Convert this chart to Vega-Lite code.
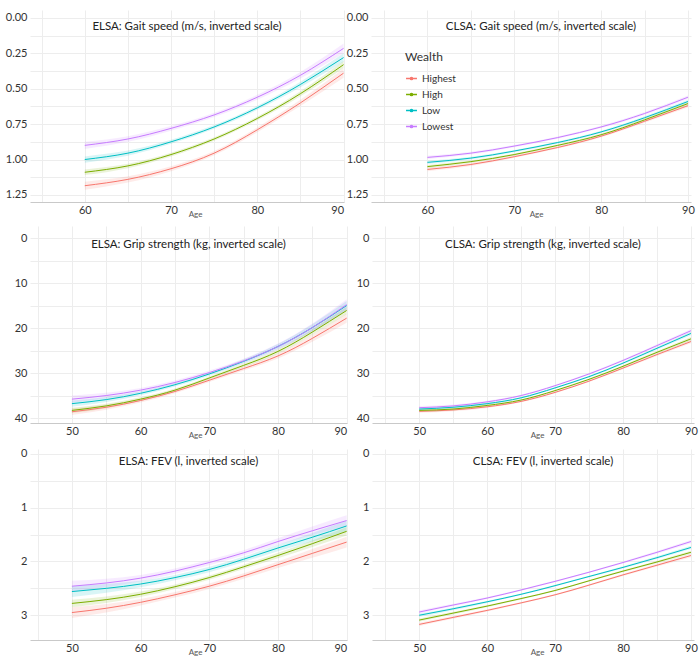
{
  "$schema": "https://vega.github.io/schema/vega-lite/v6.json",
  "padding": {"left": 5, "top": 10, "right": 5, "bottom": 2},
  "background": "white",
  "spacing": 8,
  "config": {
    "font": "Lato",
    "view": {"stroke": null},
    "axis": {"labelFontSize": 11, "labelColor": "#333", "gridColor": "#ededed", "ticks": false, "domain": false, "labelPadding": 3, "labelOverlap": false, "titleFontWeight": "normal", "titleFontSize": 8, "titleColor": "#555", "titleBaseline": "middle"},
    "axisX": {"domain": true, "domainColor": "#c9c9c9", "labelPadding": 2, "labelFlush": true, "titleX": 165, "titleY": 12},
    "title": {"fontSize": 11.5, "fontWeight": "normal", "color": "#222", "anchor": "middle", "offset": -22},
    "legend": {"disable": true, "titleFontSize": 12, "titleFontWeight": "normal", "titleColor": "#333", "labelFontSize": 10, "labelColor": "#333", "rowPadding": 4, "titlePadding": 8}
  },
  "datasets": {
    "eg": [
      {"age":60,"w":"Highest","v":1.185,"lo":1.157,"hi":1.213},{"age":65,"w":"Highest","v":1.14,"lo":1.118,"hi":1.162},{"age":70,"w":"Highest","v":1.065,"lo":1.048,"hi":1.082},{"age":75,"w":"Highest","v":0.955,"lo":0.94,"hi":0.97},{"age":80,"w":"Highest","v":0.79,"lo":0.773,"hi":0.807},{"age":85,"w":"Highest","v":0.6,"lo":0.578,"hi":0.622},{"age":90,"w":"Highest","v":0.39,"lo":0.358,"hi":0.422},
      {"age":60,"w":"High","v":1.09,"lo":1.07,"hi":1.11},{"age":65,"w":"High","v":1.045,"lo":1.029,"hi":1.061},{"age":70,"w":"High","v":0.965,"lo":0.952,"hi":0.978},{"age":75,"w":"High","v":0.855,"lo":0.843,"hi":0.867},{"age":80,"w":"High","v":0.71,"lo":0.697,"hi":0.723},{"age":85,"w":"High","v":0.535,"lo":0.517,"hi":0.553},{"age":90,"w":"High","v":0.33,"lo":0.304,"hi":0.356},
      {"age":60,"w":"Low","v":1.0,"lo":0.978,"hi":1.022},{"age":65,"w":"Low","v":0.955,"lo":0.937,"hi":0.973},{"age":70,"w":"Low","v":0.875,"lo":0.861,"hi":0.889},{"age":75,"w":"Low","v":0.77,"lo":0.757,"hi":0.783},{"age":80,"w":"Low","v":0.635,"lo":0.621,"hi":0.649},{"age":85,"w":"Low","v":0.47,"lo":0.45,"hi":0.49},{"age":90,"w":"Low","v":0.28,"lo":0.25,"hi":0.31},
      {"age":60,"w":"Lowest","v":0.9,"lo":0.875,"hi":0.925},{"age":65,"w":"Lowest","v":0.855,"lo":0.835,"hi":0.875},{"age":70,"w":"Lowest","v":0.78,"lo":0.764,"hi":0.796},{"age":75,"w":"Lowest","v":0.685,"lo":0.67,"hi":0.7},{"age":80,"w":"Lowest","v":0.56,"lo":0.543,"hi":0.577},{"age":85,"w":"Lowest","v":0.405,"lo":0.382,"hi":0.428},{"age":90,"w":"Lowest","v":0.215,"lo":0.18,"hi":0.25}
    ],
    "cg": [
      {"age":60,"w":"Highest","v":1.07,"lo":1.058,"hi":1.082},{"age":65,"w":"Highest","v":1.035,"lo":1.025,"hi":1.045},{"age":70,"w":"Highest","v":0.98,"lo":0.972,"hi":0.988},{"age":75,"w":"Highest","v":0.915,"lo":0.907,"hi":0.923},{"age":80,"w":"Highest","v":0.835,"lo":0.827,"hi":0.843},{"age":85,"w":"Highest","v":0.73,"lo":0.72,"hi":0.74},{"age":90,"w":"Highest","v":0.62,"lo":0.607,"hi":0.633},
      {"age":60,"w":"High","v":1.05,"lo":1.038,"hi":1.062},{"age":65,"w":"High","v":1.015,"lo":1.005,"hi":1.025},{"age":70,"w":"High","v":0.965,"lo":0.957,"hi":0.973},{"age":75,"w":"High","v":0.9,"lo":0.892,"hi":0.908},{"age":80,"w":"High","v":0.825,"lo":0.817,"hi":0.833},{"age":85,"w":"High","v":0.72,"lo":0.71,"hi":0.73},{"age":90,"w":"High","v":0.605,"lo":0.592,"hi":0.618},
      {"age":60,"w":"Low","v":1.02,"lo":1.008,"hi":1.032},{"age":65,"w":"Low","v":0.99,"lo":0.98,"hi":1.0},{"age":70,"w":"Low","v":0.94,"lo":0.932,"hi":0.948},{"age":75,"w":"Low","v":0.88,"lo":0.872,"hi":0.888},{"age":80,"w":"Low","v":0.805,"lo":0.797,"hi":0.813},{"age":85,"w":"Low","v":0.705,"lo":0.695,"hi":0.715},{"age":90,"w":"Low","v":0.59,"lo":0.577,"hi":0.603},
      {"age":60,"w":"Lowest","v":0.985,"lo":0.973,"hi":0.997},{"age":65,"w":"Lowest","v":0.955,"lo":0.945,"hi":0.965},{"age":70,"w":"Lowest","v":0.905,"lo":0.897,"hi":0.913},{"age":75,"w":"Lowest","v":0.845,"lo":0.837,"hi":0.853},{"age":80,"w":"Lowest","v":0.77,"lo":0.762,"hi":0.778},{"age":85,"w":"Lowest","v":0.675,"lo":0.665,"hi":0.685},{"age":90,"w":"Lowest","v":0.56,"lo":0.547,"hi":0.573}
    ],
    "eh": [
      {"age":50,"w":"Highest","v":38.6,"lo":37.9,"hi":39.3},{"age":55,"w":"Highest","v":37.6,"lo":37.05,"hi":38.15},{"age":60,"w":"Highest","v":36.1,"lo":35.65,"hi":36.55},{"age":65,"w":"Highest","v":34.1,"lo":33.7,"hi":34.5},{"age":70,"w":"Highest","v":31.6,"lo":31.2,"hi":32.0},{"age":75,"w":"Highest","v":29.0,"lo":28.55,"hi":29.45},{"age":80,"w":"Highest","v":26.2,"lo":25.65,"hi":26.75},{"age":85,"w":"Highest","v":22.3,"lo":21.55,"hi":23.05},{"age":90,"w":"Highest","v":17.8,"lo":16.8,"hi":18.8},
      {"age":50,"w":"High","v":38.3,"lo":37.7,"hi":38.9},{"age":55,"w":"High","v":37.3,"lo":36.8,"hi":37.8},{"age":60,"w":"High","v":35.8,"lo":35.4,"hi":36.2},{"age":65,"w":"High","v":33.8,"lo":33.45,"hi":34.15},{"age":70,"w":"High","v":31.1,"lo":30.75,"hi":31.45},{"age":75,"w":"High","v":28.3,"lo":27.9,"hi":28.7},{"age":80,"w":"High","v":25.2,"lo":24.7,"hi":25.7},{"age":85,"w":"High","v":20.9,"lo":20.25,"hi":21.55},{"age":90,"w":"High","v":16.1,"lo":15.25,"hi":16.95},
      {"age":50,"w":"Low","v":36.8,"lo":36.1,"hi":37.5},{"age":55,"w":"Low","v":35.9,"lo":35.35,"hi":36.45},{"age":60,"w":"Low","v":34.5,"lo":34.05,"hi":34.95},{"age":65,"w":"Low","v":32.6,"lo":32.2,"hi":33.0},{"age":70,"w":"Low","v":30.2,"lo":29.8,"hi":30.6},{"age":75,"w":"Low","v":27.4,"lo":26.95,"hi":27.85},{"age":80,"w":"Low","v":24.1,"lo":23.55,"hi":24.65},{"age":85,"w":"Low","v":19.9,"lo":19.15,"hi":20.65},{"age":90,"w":"Low","v":15.0,"lo":14.0,"hi":16.0},
      {"age":50,"w":"Lowest","v":35.8,"lo":35.0,"hi":36.6},{"age":55,"w":"Lowest","v":35.0,"lo":34.4,"hi":35.6},{"age":60,"w":"Lowest","v":33.8,"lo":33.3,"hi":34.3},{"age":65,"w":"Lowest","v":32.1,"lo":31.65,"hi":32.55},{"age":70,"w":"Lowest","v":29.9,"lo":29.45,"hi":30.35},{"age":75,"w":"Lowest","v":27.3,"lo":26.8,"hi":27.8},{"age":80,"w":"Lowest","v":24.1,"lo":23.45,"hi":24.75},{"age":85,"w":"Lowest","v":19.9,"lo":19.0,"hi":20.8},{"age":90,"w":"Lowest","v":14.8,"lo":13.6,"hi":16.0}
    ],
    "ch": [
      {"age":50,"w":"Highest","v":38.5,"lo":38.15,"hi":38.85},{"age":55,"w":"Highest","v":38.2,"lo":37.9,"hi":38.5},{"age":60,"w":"Highest","v":37.5,"lo":37.25,"hi":37.75},{"age":65,"w":"Highest","v":36.3,"lo":36.1,"hi":36.5},{"age":70,"w":"Highest","v":34.3,"lo":34.1,"hi":34.5},{"age":75,"w":"Highest","v":31.8,"lo":31.6,"hi":32.0},{"age":80,"w":"Highest","v":28.9,"lo":28.65,"hi":29.15},{"age":85,"w":"Highest","v":25.9,"lo":25.6,"hi":26.2},{"age":90,"w":"Highest","v":23.0,"lo":22.6,"hi":23.4},
      {"age":50,"w":"High","v":38.3,"lo":37.95,"hi":38.65},{"age":55,"w":"High","v":38.0,"lo":37.7,"hi":38.3},{"age":60,"w":"High","v":37.2,"lo":36.95,"hi":37.45},{"age":65,"w":"High","v":36.0,"lo":35.8,"hi":36.2},{"age":70,"w":"High","v":33.9,"lo":33.7,"hi":34.1},{"age":75,"w":"High","v":31.4,"lo":31.2,"hi":31.6},{"age":80,"w":"High","v":28.5,"lo":28.25,"hi":28.75},{"age":85,"w":"High","v":25.4,"lo":25.1,"hi":25.7},{"age":90,"w":"High","v":22.4,"lo":22.0,"hi":22.8},
      {"age":50,"w":"Low","v":38.0,"lo":37.65,"hi":38.35},{"age":55,"w":"Low","v":37.6,"lo":37.3,"hi":37.9},{"age":60,"w":"Low","v":36.8,"lo":36.55,"hi":37.05},{"age":65,"w":"Low","v":35.5,"lo":35.3,"hi":35.7},{"age":70,"w":"Low","v":33.3,"lo":33.1,"hi":33.5},{"age":75,"w":"Low","v":30.8,"lo":30.6,"hi":31.0},{"age":80,"w":"Low","v":27.8,"lo":27.55,"hi":28.05},{"age":85,"w":"Low","v":24.5,"lo":24.2,"hi":24.8},{"age":90,"w":"Low","v":21.2,"lo":20.8,"hi":21.6},
      {"age":50,"w":"Lowest","v":37.7,"lo":37.35,"hi":38.05},{"age":55,"w":"Lowest","v":37.3,"lo":37.0,"hi":37.6},{"age":60,"w":"Lowest","v":36.4,"lo":36.15,"hi":36.65},{"age":65,"w":"Lowest","v":35.0,"lo":34.8,"hi":35.2},{"age":70,"w":"Lowest","v":32.8,"lo":32.6,"hi":33.0},{"age":75,"w":"Lowest","v":30.2,"lo":30.0,"hi":30.4},{"age":80,"w":"Lowest","v":27.2,"lo":26.95,"hi":27.45},{"age":85,"w":"Lowest","v":23.9,"lo":23.6,"hi":24.2},{"age":90,"w":"Lowest","v":20.6,"lo":20.2,"hi":21.0}
    ],
    "ef": [
      {"age":50,"w":"Highest","v":2.95,"lo":2.85,"hi":3.05},{"age":55,"w":"Highest","v":2.87,"lo":2.79,"hi":2.95},{"age":60,"w":"Highest","v":2.76,"lo":2.7,"hi":2.82},{"age":65,"w":"Highest","v":2.62,"lo":2.57,"hi":2.67},{"age":70,"w":"Highest","v":2.46,"lo":2.41,"hi":2.51},{"age":75,"w":"Highest","v":2.27,"lo":2.22,"hi":2.32},{"age":80,"w":"Highest","v":2.06,"lo":2.0,"hi":2.12},{"age":85,"w":"Highest","v":1.85,"lo":1.77,"hi":1.93},{"age":90,"w":"Highest","v":1.64,"lo":1.54,"hi":1.74},
      {"age":50,"w":"High","v":2.78,"lo":2.71,"hi":2.85},{"age":55,"w":"High","v":2.71,"lo":2.65,"hi":2.77},{"age":60,"w":"High","v":2.61,"lo":2.56,"hi":2.66},{"age":65,"w":"High","v":2.47,"lo":2.43,"hi":2.51},{"age":70,"w":"High","v":2.3,"lo":2.26,"hi":2.34},{"age":75,"w":"High","v":2.1,"lo":2.06,"hi":2.14},{"age":80,"w":"High","v":1.89,"lo":1.84,"hi":1.94},{"age":85,"w":"High","v":1.67,"lo":1.61,"hi":1.73},{"age":90,"w":"High","v":1.44,"lo":1.36,"hi":1.52},
      {"age":50,"w":"Low","v":2.56,"lo":2.46,"hi":2.66},{"age":55,"w":"Low","v":2.5,"lo":2.42,"hi":2.58},{"age":60,"w":"Low","v":2.42,"lo":2.36,"hi":2.48},{"age":65,"w":"Low","v":2.3,"lo":2.25,"hi":2.35},{"age":70,"w":"Low","v":2.15,"lo":2.1,"hi":2.2},{"age":75,"w":"Low","v":1.96,"lo":1.91,"hi":2.01},{"age":80,"w":"Low","v":1.75,"lo":1.69,"hi":1.81},{"age":85,"w":"Low","v":1.55,"lo":1.47,"hi":1.63},{"age":90,"w":"Low","v":1.34,"lo":1.24,"hi":1.44},
      {"age":50,"w":"Lowest","v":2.46,"lo":2.36,"hi":2.56},{"age":55,"w":"Lowest","v":2.4,"lo":2.32,"hi":2.48},{"age":60,"w":"Lowest","v":2.31,"lo":2.25,"hi":2.37},{"age":65,"w":"Lowest","v":2.18,"lo":2.13,"hi":2.23},{"age":70,"w":"Lowest","v":2.02,"lo":1.97,"hi":2.07},{"age":75,"w":"Lowest","v":1.84,"lo":1.79,"hi":1.89},{"age":80,"w":"Lowest","v":1.63,"lo":1.57,"hi":1.69},{"age":85,"w":"Lowest","v":1.43,"lo":1.35,"hi":1.51},{"age":90,"w":"Lowest","v":1.24,"lo":1.14,"hi":1.34}
    ],
    "cf": [
      {"age":50,"w":"Highest","v":3.17,"lo":3.14,"hi":3.2},{"age":55,"w":"Highest","v":3.04,"lo":3.015,"hi":3.065},{"age":60,"w":"Highest","v":2.91,"lo":2.89,"hi":2.93},{"age":65,"w":"Highest","v":2.77,"lo":2.755,"hi":2.785},{"age":70,"w":"Highest","v":2.62,"lo":2.605,"hi":2.635},{"age":75,"w":"Highest","v":2.44,"lo":2.425,"hi":2.455},{"age":80,"w":"Highest","v":2.25,"lo":2.23,"hi":2.27},{"age":85,"w":"Highest","v":2.07,"lo":2.045,"hi":2.095},{"age":90,"w":"Highest","v":1.89,"lo":1.86,"hi":1.92},
      {"age":50,"w":"High","v":3.09,"lo":3.06,"hi":3.12},{"age":55,"w":"High","v":2.96,"lo":2.935,"hi":2.985},{"age":60,"w":"High","v":2.83,"lo":2.81,"hi":2.85},{"age":65,"w":"High","v":2.69,"lo":2.675,"hi":2.705},{"age":70,"w":"High","v":2.54,"lo":2.525,"hi":2.555},{"age":75,"w":"High","v":2.36,"lo":2.345,"hi":2.375},{"age":80,"w":"High","v":2.18,"lo":2.16,"hi":2.2},{"age":85,"w":"High","v":2.01,"lo":1.985,"hi":2.035},{"age":90,"w":"High","v":1.83,"lo":1.8,"hi":1.86},
      {"age":50,"w":"Low","v":3.0,"lo":2.97,"hi":3.03},{"age":55,"w":"Low","v":2.88,"lo":2.855,"hi":2.905},{"age":60,"w":"Low","v":2.75,"lo":2.73,"hi":2.77},{"age":65,"w":"Low","v":2.61,"lo":2.595,"hi":2.625},{"age":70,"w":"Low","v":2.45,"lo":2.435,"hi":2.465},{"age":75,"w":"Low","v":2.28,"lo":2.265,"hi":2.295},{"age":80,"w":"Low","v":2.11,"lo":2.09,"hi":2.13},{"age":85,"w":"Low","v":1.93,"lo":1.905,"hi":1.955},{"age":90,"w":"Low","v":1.74,"lo":1.71,"hi":1.77},
      {"age":50,"w":"Lowest","v":2.94,"lo":2.91,"hi":2.97},{"age":55,"w":"Lowest","v":2.81,"lo":2.785,"hi":2.835},{"age":60,"w":"Lowest","v":2.68,"lo":2.66,"hi":2.7},{"age":65,"w":"Lowest","v":2.53,"lo":2.515,"hi":2.545},{"age":70,"w":"Lowest","v":2.37,"lo":2.355,"hi":2.385},{"age":75,"w":"Lowest","v":2.2,"lo":2.185,"hi":2.215},{"age":80,"w":"Lowest","v":2.02,"lo":2.0,"hi":2.04},{"age":85,"w":"Lowest","v":1.83,"lo":1.805,"hi":1.855},{"age":90,"w":"Lowest","v":1.63,"lo":1.6,"hi":1.66}
    ]
  },
  "vconcat": [
    {
      "spacing": 0,
      "hconcat": [
        {
          "width": 314, "height": 192,
          "data": {"name": "eg"},
          "title": {"text": "ELSA: Gait speed (m/s, inverted scale)"},
          "resolve": {"axis": {"y": "independent"}},
          "encoding": {
            "x": {"field": "age", "type": "quantitative", "scale": {"domain": [53.65, 90.05], "nice": false, "zero": false},
                  "axis": {"title": "Age", "values": [55, 60, 65, 70, 75, 80, 85, 90], "labelExpr": "datum.value % 10 === 0 ? datum.label : ''"}}
          },
          "layer": [
            {"mark": {"type": "area", "opacity": 0.15, "interpolate": "natural"},
             "encoding": {"y": {"field": "lo", "type": "quantitative", "scale": {"domain": [-0.056, 1.3], "reverse": true, "nice": false, "zero": false}, "axis": null},
                          "y2": {"field": "hi"},
                          "color": {"field": "w", "type": "nominal", "scale": {"domain": ["Highest", "High", "Low", "Lowest"], "range": ["#F8766D", "#7CAE00", "#00BFC4", "#C77CFF"]}}}},
            {"mark": {"type": "line", "strokeWidth": 1, "interpolate": "natural"},
             "encoding": {"y": {"field": "v", "type": "quantitative",
                                "axis": {"title": null, "grid": true, "minExtent": 25, "values": [0, 0.125, 0.25, 0.375, 0.5, 0.625, 0.75, 0.875, 1, 1.125, 1.25], "labelExpr": "(datum.value * 4) % 1 === 0 ? format(datum.value, '.2f') : ''"}},
                          "color": {"field": "w", "type": "nominal"}}},
            {"data": {"values": [{}]}, "mark": {"type": "text", "text": "//", "fontSize": 9, "color": "#444", "dy": 2},
             "encoding": {"x": {"datum": 56.3}, "y": {"datum": 1.3, "axis": null}}}
          ]
        },
        {
          "width": 320, "height": 192,
          "data": {"name": "cg"},
          "title": {"text": "CLSA: Gait speed (m/s, inverted scale)", "dx": 10},
          "resolve": {"axis": {"y": "independent"}},
          "encoding": {
            "x": {"field": "age", "type": "quantitative", "scale": {"domain": [53.5, 90.35], "nice": false, "zero": false},
                  "axis": {"title": "Age", "values": [55, 60, 65, 70, 75, 80, 85, 90], "labelExpr": "datum.value % 10 === 0 ? datum.label : ''"}}
          },
          "layer": [
            {"mark": {"type": "area", "opacity": 0.15, "interpolate": "natural"},
             "encoding": {"y": {"field": "lo", "type": "quantitative", "scale": {"domain": [-0.056, 1.3], "reverse": true, "nice": false, "zero": false}, "axis": null},
                          "y2": {"field": "hi"},
                          "color": {"field": "w", "type": "nominal", "scale": {"domain": ["Highest", "High", "Low", "Lowest"], "range": ["#F8766D", "#7CAE00", "#00BFC4", "#C77CFF"]}}}},
            {"mark": {"type": "line", "strokeWidth": 1, "interpolate": "natural"},
             "encoding": {"y": {"field": "v", "type": "quantitative",
                                "axis": {"title": null, "grid": true, "minExtent": 25, "values": [0, 0.125, 0.25, 0.375, 0.5, 0.625, 0.75, 0.875, 1, 1.125, 1.25], "labelExpr": "(datum.value * 4) % 1 === 0 ? format(datum.value, '.2f') : ''"}},
                          "color": {"field": "w", "type": "nominal",
                                    "legend": {"disable": false, "title": "Wealth", "orient": "none", "legendX": 375, "legendY": 42, "symbolType": "M-1,0H1M-0.2,0A0.2,0.2,0,1,0,0.2,0A0.2,0.2,0,1,0,-0.2,0", "symbolSize": 120, "symbolStrokeWidth": 1.5}}}},
            {"data": {"values": [{}]}, "mark": {"type": "text", "text": "//", "fontSize": 9, "color": "#444", "dy": 2},
             "encoding": {"x": {"datum": 56.3}, "y": {"datum": 1.3, "axis": null}}}
          ]
        }
      ]
    },
    {
      "spacing": 5,
      "hconcat": [
        {
          "width": 317, "height": 197,
          "data": {"name": "eh"},
          "title": {"text": "ELSA: Grip strength (kg, inverted scale)", "offset": -24},
          "resolve": {"axis": {"y": "independent"}},
          "encoding": {
            "x": {"field": "age", "type": "quantitative", "scale": {"domain": [43.9, 90.05], "nice": false, "zero": false},
                  "axis": {"title": "Age", "values": [45, 50, 55, 60, 65, 70, 75, 80, 85, 90], "labelExpr": "datum.value % 10 === 0 ? datum.label : ''"}}
          },
          "layer": [
            {"mark": {"type": "area", "opacity": 0.15, "interpolate": "natural"},
             "encoding": {"y": {"field": "lo", "type": "quantitative", "scale": {"domain": [-2.67, 41.1], "reverse": true, "nice": false, "zero": false}, "axis": null},
                          "y2": {"field": "hi"},
                          "color": {"field": "w", "type": "nominal", "scale": {"domain": ["Highest", "High", "Low", "Lowest"], "range": ["#F8766D", "#7CAE00", "#00BFC4", "#C77CFF"]}}}},
            {"mark": {"type": "line", "strokeWidth": 1, "interpolate": "natural"},
             "encoding": {"y": {"field": "v", "type": "quantitative",
                                "axis": {"title": null, "grid": true, "minExtent": 18, "values": [0, 5, 10, 15, 20, 25, 30, 35, 40], "labelExpr": "datum.value % 10 === 0 ? format(datum.value, 'd') : ''"}},
                          "color": {"field": "w", "type": "nominal"}}},
            {"data": {"values": [{}]}, "mark": {"type": "text", "text": "//", "fontSize": 9, "color": "#444", "dy": 1},
             "encoding": {"x": {"datum": 46}, "y": {"datum": 41.1, "axis": null}}}
          ]
        },
        {
          "width": 322, "height": 197,
          "data": {"name": "ch"},
          "title": {"text": "CLSA: Grip strength (kg, inverted scale)", "offset": -24, "dx": 10},
          "resolve": {"axis": {"y": "independent"}},
          "encoding": {
            "x": {"field": "age", "type": "quantitative", "scale": {"domain": [43.05, 90.45], "nice": false, "zero": false},
                  "axis": {"title": "Age", "values": [45, 50, 55, 60, 65, 70, 75, 80, 85, 90], "labelExpr": "datum.value % 10 === 0 ? datum.label : ''"}}
          },
          "layer": [
            {"mark": {"type": "area", "opacity": 0.15, "interpolate": "natural"},
             "encoding": {"y": {"field": "lo", "type": "quantitative", "scale": {"domain": [-2.67, 41.1], "reverse": true, "nice": false, "zero": false}, "axis": null},
                          "y2": {"field": "hi"},
                          "color": {"field": "w", "type": "nominal", "scale": {"domain": ["Highest", "High", "Low", "Lowest"], "range": ["#F8766D", "#7CAE00", "#00BFC4", "#C77CFF"]}}}},
            {"mark": {"type": "line", "strokeWidth": 1, "interpolate": "natural"},
             "encoding": {"y": {"field": "v", "type": "quantitative",
                                "axis": {"title": null, "grid": true, "minExtent": 18, "values": [0, 5, 10, 15, 20, 25, 30, 35, 40], "labelExpr": "datum.value % 10 === 0 ? format(datum.value, 'd') : ''"}},
                          "color": {"field": "w", "type": "nominal"}}},
            {"data": {"values": [{}]}, "mark": {"type": "text", "text": "//", "fontSize": 9, "color": "#444", "dy": 1},
             "encoding": {"x": {"datum": 46}, "y": {"datum": 41.1, "axis": null}}}
          ]
        }
      ]
    },
    {
      "spacing": 5,
      "hconcat": [
        {
          "width": 317, "height": 191,
          "data": {"name": "ef"},
          "title": {"text": "ELSA: FEV (l, inverted scale)", "offset": -20},
          "resolve": {"axis": {"y": "independent"}},
          "encoding": {
            "x": {"field": "age", "type": "quantitative", "scale": {"domain": [43.9, 90.05], "nice": false, "zero": false},
                  "axis": {"title": "Age", "values": [45, 50, 55, 60, 65, 70, 75, 80, 85, 90], "labelExpr": "datum.value % 10 === 0 ? datum.label : ''"}}
          },
          "layer": [
            {"mark": {"type": "area", "opacity": 0.15, "interpolate": "natural"},
             "encoding": {"y": {"field": "lo", "type": "quantitative", "scale": {"domain": [-0.09, 3.46], "reverse": true, "nice": false, "zero": false}, "axis": null},
                          "y2": {"field": "hi"},
                          "color": {"field": "w", "type": "nominal", "scale": {"domain": ["Highest", "High", "Low", "Lowest"], "range": ["#F8766D", "#7CAE00", "#00BFC4", "#C77CFF"]}}}},
            {"mark": {"type": "line", "strokeWidth": 1, "interpolate": "natural"},
             "encoding": {"y": {"field": "v", "type": "quantitative",
                                "axis": {"title": null, "grid": true, "minExtent": 18, "values": [0, 0.5, 1, 1.5, 2, 2.5, 3], "labelExpr": "datum.value % 1 === 0 ? format(datum.value, 'd') : ''"}},
                          "color": {"field": "w", "type": "nominal"}}},
            {"data": {"values": [{}]}, "mark": {"type": "text", "text": "//", "fontSize": 9, "color": "#444", "dy": 1},
             "encoding": {"x": {"datum": 45.8}, "y": {"datum": 3.46, "axis": null}}}
          ]
        },
        {
          "width": 322, "height": 191,
          "data": {"name": "cf"},
          "title": {"text": "CLSA: FEV (l, inverted scale)", "offset": -20, "dx": 10},
          "resolve": {"axis": {"y": "independent"}},
          "encoding": {
            "x": {"field": "age", "type": "quantitative", "scale": {"domain": [43.05, 90.45], "nice": false, "zero": false},
                  "axis": {"title": "Age", "values": [45, 50, 55, 60, 65, 70, 75, 80, 85, 90], "labelExpr": "datum.value % 10 === 0 ? datum.label : ''"}}
          },
          "layer": [
            {"mark": {"type": "area", "opacity": 0.15, "interpolate": "natural"},
             "encoding": {"y": {"field": "lo", "type": "quantitative", "scale": {"domain": [-0.09, 3.46], "reverse": true, "nice": false, "zero": false}, "axis": null},
                          "y2": {"field": "hi"},
                          "color": {"field": "w", "type": "nominal", "scale": {"domain": ["Highest", "High", "Low", "Lowest"], "range": ["#F8766D", "#7CAE00", "#00BFC4", "#C77CFF"]}}}},
            {"mark": {"type": "line", "strokeWidth": 1, "interpolate": "natural"},
             "encoding": {"y": {"field": "v", "type": "quantitative",
                                "axis": {"title": null, "grid": true, "minExtent": 18, "values": [0, 0.5, 1, 1.5, 2, 2.5, 3], "labelExpr": "datum.value % 1 === 0 ? format(datum.value, 'd') : ''"}},
                          "color": {"field": "w", "type": "nominal"}}},
            {"data": {"values": [{}]}, "mark": {"type": "text", "text": "//", "fontSize": 9, "color": "#444", "dy": 1},
             "encoding": {"x": {"datum": 45.5}, "y": {"datum": 3.46, "axis": null}}}
          ]
        }
      ]
    }
  ]
}
